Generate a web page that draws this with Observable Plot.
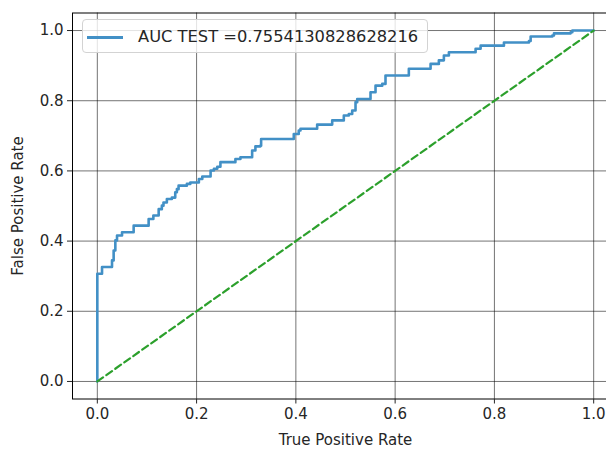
<!DOCTYPE html>
<html>
<head>
<meta charset="utf-8">
<script src="https://cdn.jsdelivr.net/npm/d3@7"></script>
<script src="https://cdn.jsdelivr.net/npm/@observablehq/plot@0.6"></script>
<style>
  html, body { margin: 0; padding: 0; background: #fff; overflow: hidden; }
  #wrap { position: relative; width: 606px; height: 453px; overflow: hidden; }
  #wrap svg { max-width: none !important; width: 618px; height: 453px; display: block; }
  #legend {
    position: absolute; left: 82px; top: 19px; width: 346px; height: 34px;
    box-sizing: border-box; background: rgba(255,255,255,0.8);
    border: 1px solid #d3d3d3; border-radius: 4px;
    font-family: "DejaVu Sans"; font-size: 16.3px; color: #262626;
  }
  #legend .swatch { position: absolute; left: 4px; top: 16px; width: 36px; height: 2.6px; }
  #legend .lab { position: absolute; left: 55px; top: 0; line-height: 34px; white-space: nowrap; }
</style>
</head>
<body>
<div id="wrap"></div>
<script>
// ROC curve corner points (false positive rate on x, true positive rate on y)
const fpr = [0, 0, 0.0095, 0.0296, 0.0329, 0.0363, 0.0397, 0.0498, 0.0732, 0.1034, 0.1129,
  0.1236, 0.1300, 0.1333, 0.1401, 0.1502, 0.1570, 0.1603, 0.1637, 0.1804, 0.1873,
  0.2046, 0.2115, 0.2282, 0.2349, 0.2417, 0.2480, 0.2782, 0.2883, 0.3119, 0.3185,
  0.3286, 0.3300, 0.3958, 0.4058, 0.4093, 0.4429, 0.4732, 0.4966, 0.5067, 0.5135,
  0.5202, 0.5236, 0.5504, 0.5605, 0.5740, 0.5806, 0.6276, 0.6714, 0.6881, 0.6982,
  0.7083, 0.7621, 0.7722, 0.8192, 0.8696, 0.8730, 0.9167, 0.9200, 0.9536, 0.9570, 1.0];
const tpr = [0, 0.307, 0.326, 0.345, 0.373, 0.402, 0.416, 0.425, 0.444, 0.463, 0.473,
  0.491, 0.501, 0.510, 0.520, 0.524, 0.539, 0.548, 0.558, 0.563, 0.567,
  0.577, 0.584, 0.601, 0.606, 0.612, 0.625, 0.634, 0.639, 0.658, 0.670,
  0.672, 0.691, 0.705, 0.715, 0.720, 0.732, 0.744, 0.758, 0.762, 0.772,
  0.796, 0.805, 0.824, 0.843, 0.848, 0.872, 0.891, 0.905, 0.915, 0.929,
  0.938, 0.948, 0.957, 0.966, 0.970, 0.983, 0.986, 0.992, 0.995, 1.0, 1.0];
const diagX = [0, 1];
const diagY = [0, 1];
const xTicks = [0, 0.2, 0.4, 0.6, 0.8, 1.0];
const yTicks = [0, 0.2, 0.4, 0.6, 0.8, 1.0];
const aucTest = "0.7554130828628216";
const legendLabel = "AUC TEST =" + aucTest;

const roc = fpr.map((f, i) => ({fpr: f, tpr: tpr[i]}));
const diag = diagX.map((x, i) => ({x, y: diagY[i]}));

const blue = "#4290c6";
const green = "#2ca02c";

const chart = Plot.plot({
  width: 618,
  height: 453,
  marginLeft: 72,
  marginRight: 0,
  marginTop: 12.5,
  marginBottom: 54.5,
  style: {fontFamily: "DejaVu Sans", fontSize: "15px", color: "#262626", background: "white", overflow: "hidden", maxWidth: "none"},
  x: {domain: [-0.05, 1.05]},
  y: {domain: [-0.05, 1.05]},
  marks: [
    Plot.gridX(xTicks, {stroke: "#000", strokeOpacity: 0.55, strokeWidth: 1}),
    Plot.gridY(yTicks, {stroke: "#000", strokeOpacity: 0.55, strokeWidth: 1}),
    Plot.line(roc, {x: "fpr", y: "tpr", curve: "step-after", stroke: blue, strokeWidth: 2.6}),
    Plot.line(diag, {x: "x", y: "y", stroke: green, strokeWidth: 2.2, strokeDasharray: "7,4"}),
    Plot.frame({stroke: "#000", strokeWidth: 1}),
    Plot.axisX(xTicks, {tickFormat: ".1f", tickSize: 5, tickPadding: 4, fontSize: 15,
      label: "True Positive Rate", labelAnchor: "center", labelArrow: "none", labelOffset: 46}),
    Plot.axisY(yTicks, {tickFormat: ".1f", tickSize: 5, tickPadding: 4, fontSize: 15,
      label: "False Positive Rate", labelAnchor: "center", labelArrow: "none", labelOffset: 60})
  ]
});

const wrap = document.getElementById("wrap");
wrap.appendChild(chart);
const legend = document.createElement("div");
legend.id = "legend";
legend.innerHTML = `<div class="swatch" style="background:${blue}"></div><div class="lab"></div>`;
legend.querySelector(".lab").textContent = legendLabel;
wrap.appendChild(legend);
</script>
</body>
</html>
